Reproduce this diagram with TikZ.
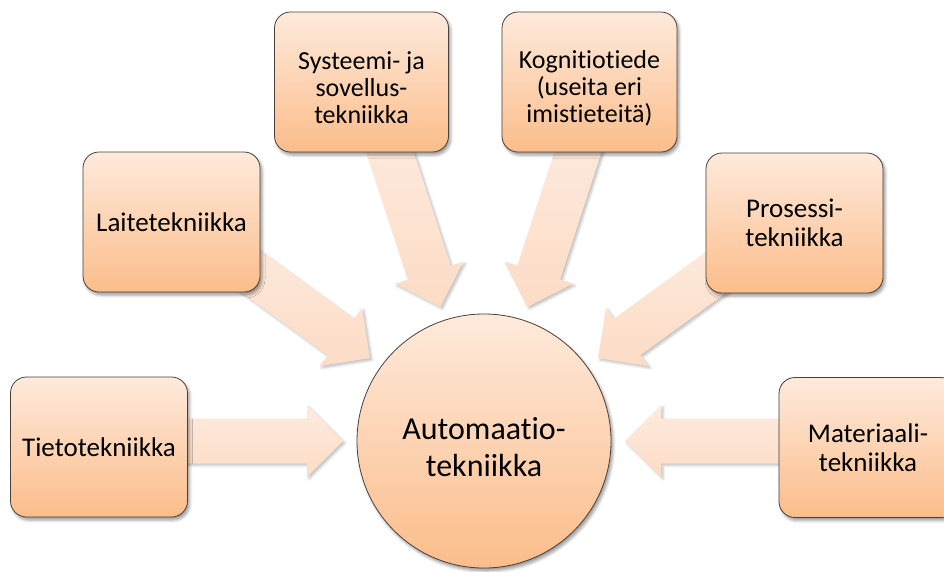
\documentclass[tikz,border=0pt]{standalone}
\usepackage{fontspec}
\setmainfont{Carlito}[Ligatures=NoCommon]
\usetikzlibrary{shadows.blur}

\definecolor{boxtop}{HTML}{FEEADC}
\definecolor{boxbot}{HTML}{FBBD8A}
\definecolor{arrtop}{HTML}{FEEBDF}
\definecolor{arrbot}{HTML}{FCDCC5}
\definecolor{edgeline}{HTML}{4A4038}

% block arrow pointing at the hub, lying along direction #1 (degrees)
\newcommand\radialarrow[1]{%
  \path[flow, shift={(hubc)}, rotate=#1]
    (141pt,0pt) -- (177pt,36pt) -- (177pt,22.5pt) -- (330pt,22.5pt)
    -- (330pt,-22.5pt) -- (177pt,-22.5pt) -- (177pt,-36pt) -- cycle;}
% taller first line, which lowers a three-line text inside its box
\newcommand\lowerfirst{\rule{0pt}{30pt}}

\begin{document}
\begin{tikzpicture}[x=1pt,y=-1pt,
  softshadow/.style={blur shadow={shadow xshift=2pt, shadow yshift=-3pt,
      shadow blur radius=3pt, shadow opacity=40}},
  topic/.style={draw=edgeline, line width=0.8pt, rounded corners=16pt,
      top color=boxtop, bottom color=boxbot, minimum width=177pt,
      minimum height=140pt, align=center, inner sep=4pt,
      font=\fontsize{27}{29}\selectfont, softshadow},
  hubnode/.style={circle, draw=edgeline, line width=0.8pt,
      top color=boxtop, bottom color=boxbot, minimum size=254pt,
      inner sep=0pt, softshadow},
  hubtext/.style={align=center, inner sep=0pt, font=\fontsize{32}{37}\selectfont},
  flow/.style={top color=arrtop, bottom color=arrbot,
      blur shadow={shadow xshift=2pt, shadow yshift=-2pt,
      shadow blur radius=2.5pt, shadow opacity=25}},
]
\useasboundingbox (0,0) rectangle (944,571);
\clip (0,0) rectangle (944,571);

\coordinate (hubc) at (484,441);

% arrows first, so the boxes cover their tails
\radialarrow{180}
\radialarrow{144}
\radialarrow{108}
\radialarrow{72}
\radialarrow{36}
\radialarrow{0}

\node[topic] (tieto) at (99,447) {Tietotekniikka};
\node[topic] (laite) at (171.5,222) {Laitetekniikka};
\node[topic, minimum width=174pt, font=\fontsize{26}{27}\selectfont] (systeemi) at (361.5,82) {\lowerfirst Systeemi- ja\\sovellus-\\tekniikka};
\node[topic, minimum width=175pt, font=\fontsize{26}{27}\selectfont] (kognitio) at (589.5,82) {\lowerfirst Kognitiotiede\\(useita eri\\imistieteitä)};
\node[topic, yshift=-1pt] (prosessi) at (794.5,222) {Prosessi-\\tekniikka};
\node[topic, minimum width=178pt] (materiaali) at (868,447.5) {Materiaali-\\tekniikka};

\node[hubnode] (hub) at (hubc) {};
\node[hubtext] (hublabel) at ([yshift=-6pt]hub.center) {Automaatio-\\tekniikka};
\end{tikzpicture}
\end{document}
